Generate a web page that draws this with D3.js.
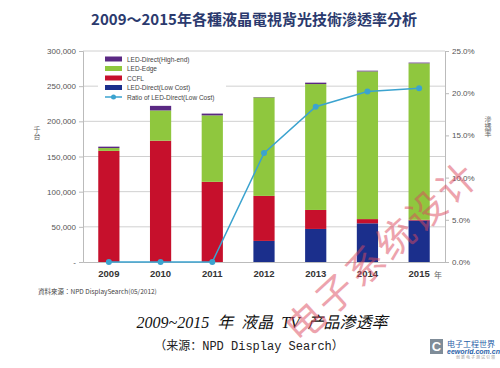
<!DOCTYPE html>
<html>
<head>
<meta charset="utf-8">
<script src="https://cdn.jsdelivr.net/npm/d3@7"></script>
<style>
  body { margin: 0; background: #fff; }
  svg { display: block; }
</style>
</head>
<body>
<svg width="500" height="368"></svg>
<script>
const width = 500;
const height = 368;

// 数据
const years = ["2009", "2010", "2011", "2012", "2013", "2014", "2015"];
const lowCost = [0, 0, 0, 30000, 47000, 55000, 59000];
const ccfl = [158000, 172500, 114000, 64000, 27000, 6000, 1000];
const edge = [4000, 43000, 94500, 140000, 179000, 210000, 222500];
const highEnd = [2000, 6500, 2500, 500, 2000, 1000, 1000];
const ratio = [0, 0, 0, 12.9, 18.4, 20.2, 20.6];
const leftTicks = [0, 50000, 100000, 150000, 200000, 250000, 300000];
const rightTicks = [0, 5, 10, 15, 20, 25];

const seriesKeys = ["lowCost", "ccfl", "edge", "highEnd"];
const colors = { lowCost: "#1b2f8c", ccfl: "#c6102c", edge: "#8fc73e", highEnd: "#5a2883" };
const legendItems = [
    { name: "LED-Direct(High-end)", color: colors.highEnd },
    { name: "LED-Edge", color: colors.edge },
    { name: "CCFL", color: colors.ccfl },
    { name: "LED-Direct(Low Cost)", color: colors.lowCost },
    { name: "Ratio of LED-Direct(Low Cost)", color: "#3ba3cf", line: true }
];

const table = years.map((y, i) => ({
    year: y, lowCost: lowCost[i], ccfl: ccfl[i], edge: edge[i], highEnd: highEnd[i], ratio: ratio[i]
}));

const svg = d3.select("svg");
const labelFont = "'Liberation Sans', Arial, sans-serif";

// 比例尺
const x = d3.scaleBand().domain(years).range([83, 445]).paddingInner(0.59).paddingOuter(0.295);
const y = d3.scaleLinear().domain([0, 300000]).range([262, 51]);
const y2 = d3.scaleLinear().domain([0, 25]).range([262, 51]);

// 标题
svg.append("text")
    .attr("x", 254).attr("y", 25)
    .attr("text-anchor", "middle")
    .style("font-family", "'Noto Sans CJK TC', sans-serif")
    .style("font-weight", "bold")
    .style("font-size", "15px")
    .style("fill", "#2b3a6e")
    .text("2009～2015年各種液晶電視背光技術滲透率分析");

// 网格线
svg.append("g").selectAll("line")
    .data(leftTicks.slice(1))
    .join("line")
    .attr("x1", 83).attr("x2", 445)
    .attr("y1", d => y(d)).attr("y2", d => y(d))
    .attr("stroke", "#d0d0d0").attr("stroke-width", 1);

// 左轴
const leftAxis = svg.append("g")
    .attr("transform", "translate(83,0)")
    .call(d3.axisLeft(y).tickValues(leftTicks).tickSize(4)
        .tickFormat(d => d === 0 ? "-" : d3.format(",")(d)));
leftAxis.select(".domain").attr("stroke", "#bbb");
leftAxis.selectAll(".tick line").attr("stroke", "#bbb");
leftAxis.selectAll("text").style("font-family", labelFont).style("font-size", "8px").style("fill", "#555");

// 右轴
const rightAxis = svg.append("g")
    .attr("transform", "translate(445,0)")
    .call(d3.axisRight(y2).tickValues(rightTicks).tickSize(4)
        .tickFormat(d => d.toFixed(1) + "%"));
rightAxis.select(".domain").attr("stroke", "#bbb");
rightAxis.selectAll(".tick line").attr("stroke", "#bbb");
rightAxis.selectAll("text").style("font-family", labelFont).style("font-size", "8px").style("fill", "#555");

// 底轴
const bottomAxis = svg.append("g")
    .attr("transform", "translate(0,262)")
    .call(d3.axisBottom(x).tickSize(0).tickPadding(8));
bottomAxis.select(".domain").attr("stroke", "#bbb");
bottomAxis.selectAll("text")
    .style("font-family", labelFont).style("font-size", "9.5px")
    .style("font-weight", "bold").style("fill", "#333");

// 堆叠柱
const stack = d3.stack().keys(seriesKeys)(table);
svg.append("g").selectAll("g")
    .data(stack)
    .join("g")
    .attr("fill", d => colors[d.key])
    .selectAll("rect")
    .data(d => d)
    .join("rect")
    .attr("x", d => x(d.data.year))
    .attr("width", x.bandwidth())
    .attr("y", d => y(d[1]))
    .attr("height", d => y(d[0]) - y(d[1]));

// 折线
const line = d3.line()
    .x(d => x(d.year) + x.bandwidth() / 2)
    .y(d => y2(d.ratio));
svg.append("path")
    .datum(table)
    .attr("d", line)
    .attr("fill", "none")
    .attr("stroke", "#3ba3cf")
    .attr("stroke-width", 1.5);
svg.append("g").selectAll("circle")
    .data(table)
    .join("circle")
    .attr("cx", d => x(d.year) + x.bandwidth() / 2)
    .attr("cy", d => y2(d.ratio))
    .attr("r", 3)
    .attr("fill", "#3ba3cf");

// 图例
const legend = svg.append("g");
legend.append("rect")
    .attr("x", 98).attr("y", 53).attr("width", 128).attr("height", 50)
    .attr("fill", "#fff");
const li = legend.selectAll("g.item")
    .data(legendItems)
    .join("g")
    .attr("class", "item")
    .attr("transform", (d, i) => `translate(105,${59 + i * 9.5})`);
li.filter(d => !d.line).append("rect")
    .attr("x", 0).attr("y", -2.5).attr("width", 17).attr("height", 5)
    .attr("fill", d => d.color);
li.filter(d => d.line).append("line")
    .attr("x1", 0).attr("x2", 17).attr("y1", 0).attr("y2", 0)
    .attr("stroke", d => d.color).attr("stroke-width", 1.5);
li.filter(d => d.line).append("circle")
    .attr("cx", 8.5).attr("cy", 0).attr("r", 2.5)
    .attr("fill", d => d.color);
li.append("text")
    .attr("x", 22).attr("y", 2.5)
    .style("font-family", labelFont).style("font-size", "6.5px").style("fill", "#444")
    .text(d => d.name);

// 轴标题
svg.append("text")
    .attr("x", 37).attr("y", 126)
    .style("font-family", "'Noto Sans CJK TC', sans-serif")
    .style("font-size", "7px").style("fill", "#666")
    .style("writing-mode", "vertical-rl")
    .text("千台");
svg.append("text")
    .attr("x", 488).attr("y", 116)
    .style("font-family", "'Noto Sans CJK TC', sans-serif")
    .style("font-size", "7px").style("fill", "#666")
    .style("writing-mode", "vertical-rl")
    .text("滲透率");
svg.append("text")
    .attr("x", 434).attr("y", 278)
    .style("font-family", "'Noto Sans CJK TC', sans-serif")
    .style("font-size", "8px").style("fill", "#666")
    .text("年");

// 资料来源
svg.append("text")
    .attr("x", 38).attr("y", 294)
    .style("font-family", "'Noto Sans CJK TC', " + labelFont)
    .style("font-size", "6.5px").style("fill", "#444")
    .text("資料來源：NPD DisplaySearch(05/2012)");

// 图片说明
svg.append("text")
    .attr("x", 262).attr("y", 328)
    .attr("text-anchor", "middle")
    .style("font-family", "'Liberation Serif', 'Noto Sans CJK SC', serif")
    .style("font-style", "italic")
    .style("font-size", "16px").style("fill", "#111")
    .style("word-spacing", "4px")
    .text("2009~2015 年  液晶  TV 产品渗透率");
svg.append("text")
    .attr("x", 249).attr("y", 350)
    .attr("text-anchor", "middle")
    .style("font-family", "'Liberation Mono', 'Noto Sans CJK SC', monospace")
    .style("font-size", "12px").style("fill", "#222")
    .text("（来源：NPD Display Search）");

// 角标
const logo = svg.append("g").attr("transform", "translate(430,339)");
logo.append("rect").attr("x", 0).attr("y", 0).attr("width", 13).attr("height", 15).attr("fill", "#7f8c98");
logo.append("text").attr("x", 6.5).attr("y", 12).attr("text-anchor", "middle")
    .style("font-family", labelFont).style("font-weight", "bold").style("font-size", "13px").style("fill", "#fff").text("C");
logo.append("text").attr("x", 17).attr("y", 8)
    .style("font-family", "'Noto Sans CJK SC', sans-serif").style("font-size", "8px").style("fill", "#2a62a8").text("电子工程世界");
logo.append("text").attr("x", 17).attr("y", 15)
    .style("font-family", labelFont).style("font-style", "italic").style("font-weight", "bold")
    .style("font-size", "7px").style("fill", "#2a62a8").text("eeworld.com.cn");
logo.append("text").attr("x", 26).attr("y", 20)
    .style("font-family", "'Noto Sans CJK SC', sans-serif").style("font-size", "4px").style("fill", "#999")
    .style("letter-spacing", "1px").text("创新电子测试引领");

// 水印
svg.append("text")
    .attr("transform", "translate(384,254) rotate(-42.5)")
    .attr("text-anchor", "middle")
    .attr("dominant-baseline", "middle")
    .style("font-family", "'Noto Sans CJK SC', sans-serif")
    .style("font-size", "38px")
    .style("letter-spacing", "3px")
    .style("fill", "#dc4a5e")
    .style("opacity", 0.5)
    .text("电子系统设计");
</script>
</body>
</html>
